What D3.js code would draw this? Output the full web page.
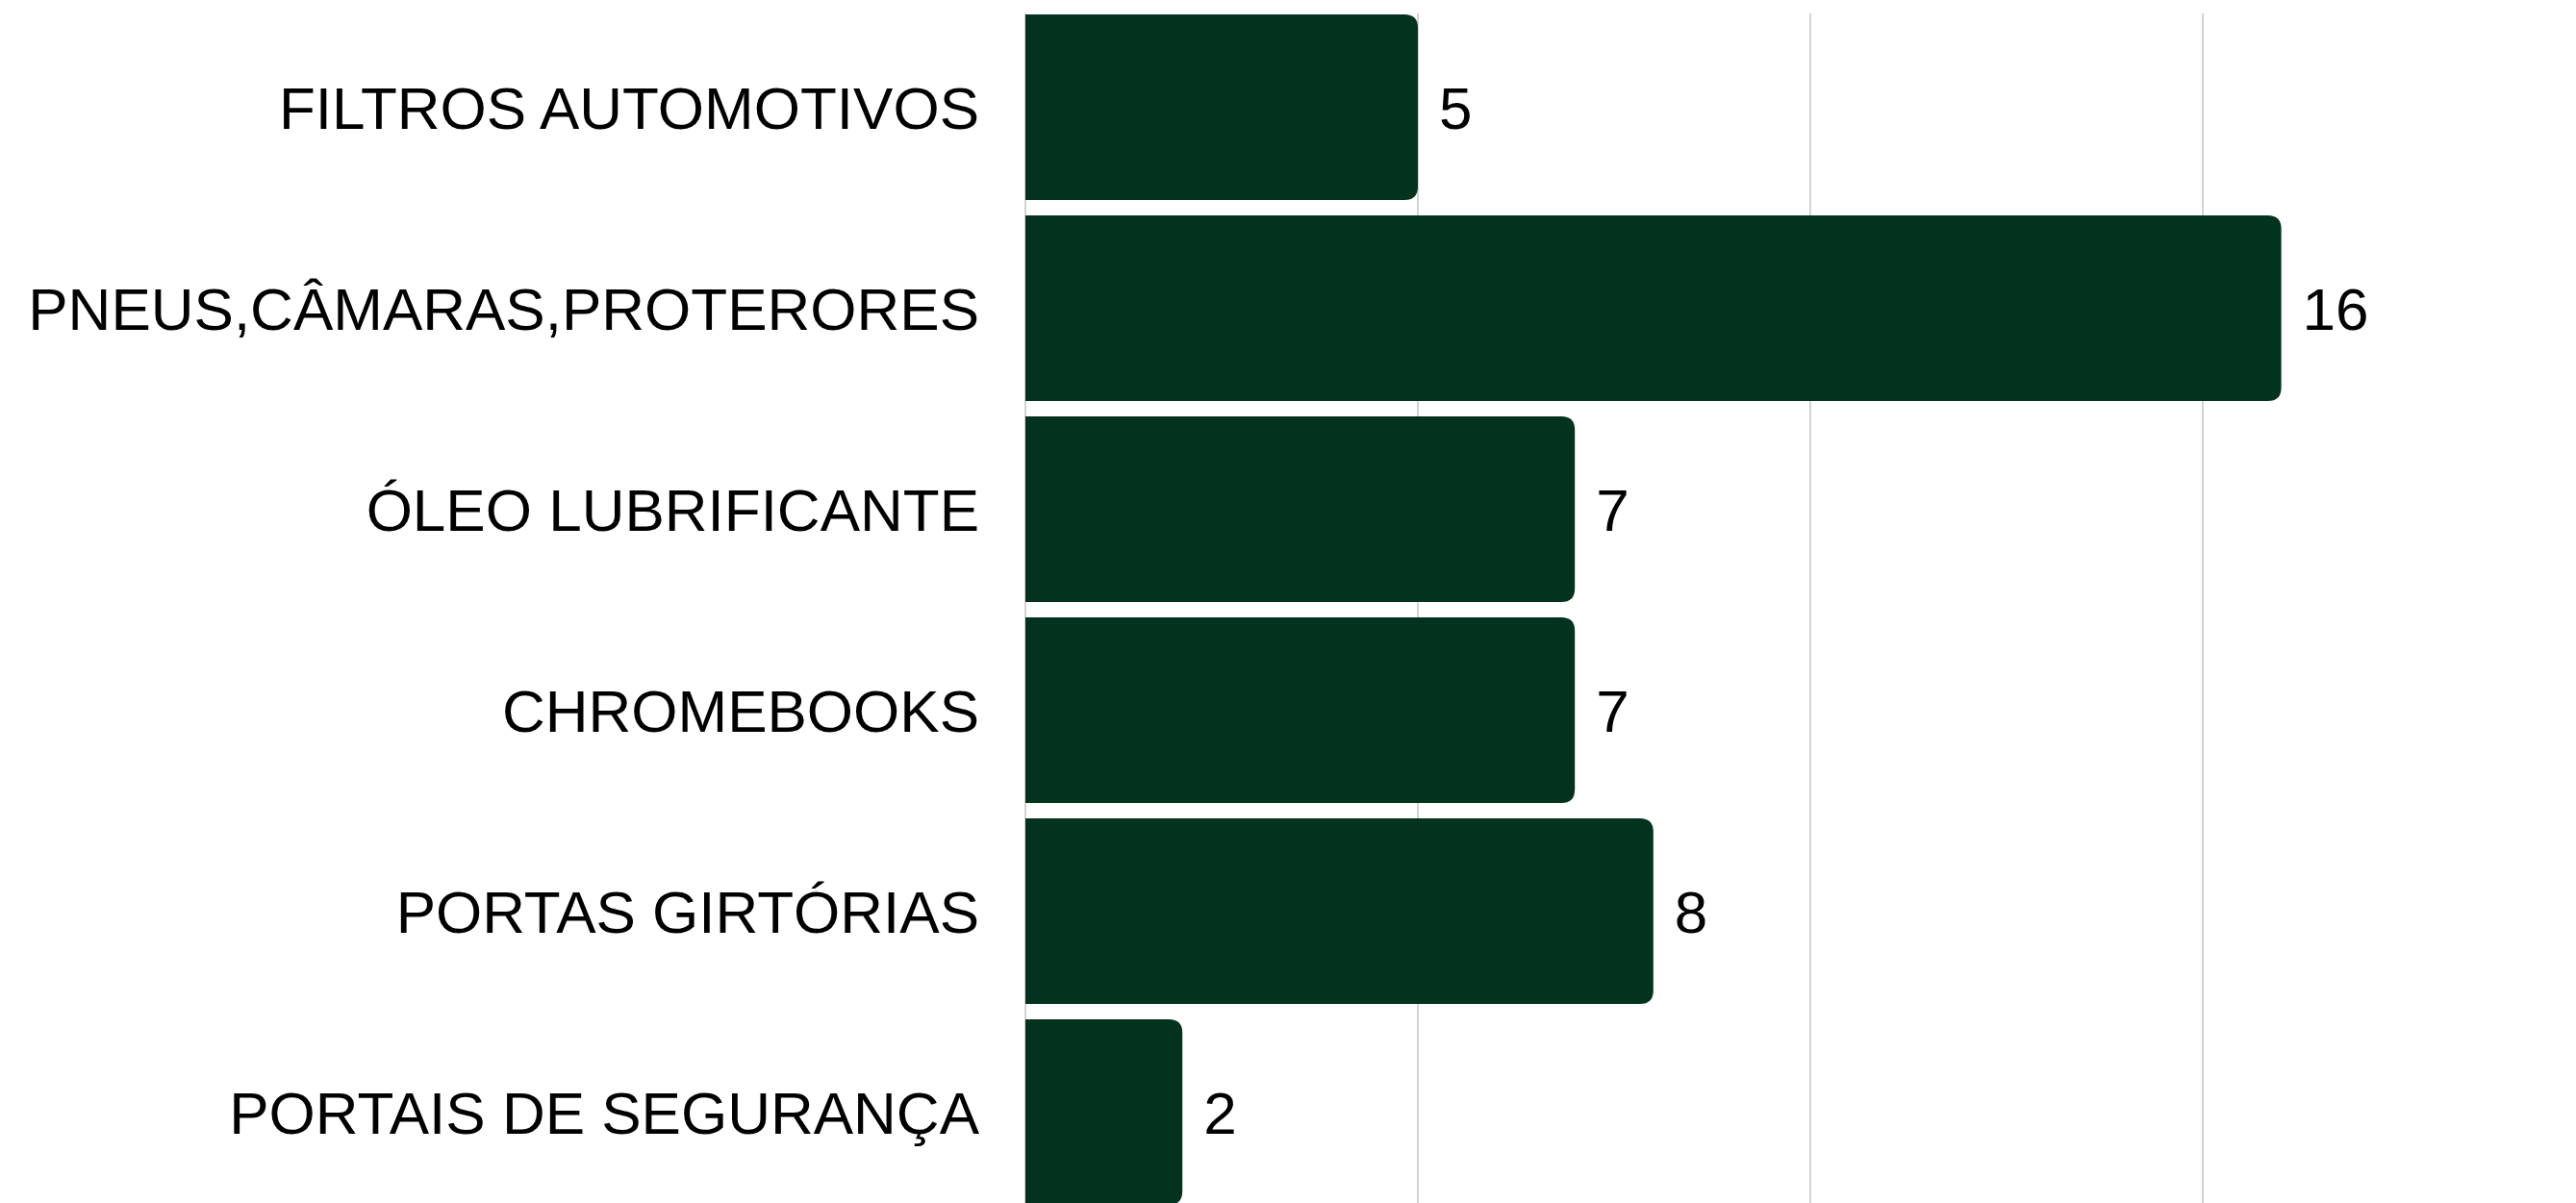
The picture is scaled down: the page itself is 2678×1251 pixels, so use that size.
<!DOCTYPE html>
<html>
<head>
<meta charset="utf-8">
<script src="https://cdn.jsdelivr.net/npm/d3@7"></script>
<style>
  html, body { margin: 0; padding: 0; background: #fff; overflow: hidden; }
  svg { display: block; }
  text { font-family: "Liberation Sans", Arial, Helvetica, sans-serif; }
</style>
</head>
<body>
<script>
const WIDTH = 2678;
const HEIGHT = 1251;
const LEFT = 1066;
const TOP = 15;
const STEP = 209;
const GAP = 16;

const categories = [
  'FILTROS AUTOMOTIVOS',
  'PNEUS,CÂMARAS,PROTERORES',
  'ÓLEO LUBRIFICANTE',
  'CHROMEBOOKS',
  'PORTAS GIRTÓRIAS',
  'PORTAIS DE SEGURANÇA'
];
const values = [5, 16, 7, 7, 8, 2];
const gridTicks = [0, 5, 10, 15, 20];

var drawChart = function(){
  var svg = d3.select('body')
    .append('svg')
    .attr('width', WIDTH)
    .attr('height', HEIGHT);

  var xScale = d3.scaleLinear().domain([0, 20]).range([LEFT, LEFT + 20*81.6]);
  var p = GAP/STEP;
  var yScale = d3.scaleBand()
    .domain(categories)
    .range([TOP, TOP + STEP*(categories.length - p)])
    .paddingInner(p)
    .paddingOuter(0);

  // vertical grid
  svg.append('g')
    .selectAll('line')
    .data(gridTicks)
    .enter()
    .append('line')
    .attr('x1', d => xScale(d))
    .attr('x2', d => xScale(d))
    .attr('y1', TOP - 1)
    .attr('y2', HEIGHT)
    .attr('stroke', '#c8c8c8')
    .attr('stroke-width', 1.6);

  var r = 14;
  var barPath = function(d, i){
    var x0 = xScale(0), x1 = xScale(d);
    var y0 = yScale(categories[i]), h = yScale.bandwidth();
    var rr = Math.min(r, (x1 - x0)/2);
    return 'M' + x0 + ',' + y0
      + 'H' + (x1 - rr)
      + 'Q' + x1 + ',' + y0 + ' ' + x1 + ',' + (y0 + rr)
      + 'V' + (y0 + h - rr)
      + 'Q' + x1 + ',' + (y0 + h) + ' ' + (x1 - rr) + ',' + (y0 + h)
      + 'H' + x0 + 'Z';
  };

  svg.append('g')
    .selectAll('path')
    .data(values)
    .enter()
    .append('path')
    .attr('d', barPath)
    .attr('fill', '#03331e');

  // value labels
  svg.append('g')
    .selectAll('text')
    .data(values)
    .enter()
    .append('text')
    .attr('x', d => xScale(d) + 22)
    .attr('y', (d, i) => yScale(categories[i]) + yScale.bandwidth()/2)
    .attr('dy', '0.36em')
    .attr('font-size', 62)
    .attr('fill', '#000')
    .text(d => d);

  // category axis
  var yAxis = d3.axisLeft(yScale).tickSize(0).tickPadding(48);
  var ax = svg.append('g')
    .attr('transform', 'translate(' + LEFT + ',0)')
    .call(yAxis);
  ax.select('.domain').remove();
  ax.selectAll('text')
    .attr('font-size', 62)
    .attr('font-family', '"Liberation Sans", Arial, Helvetica, sans-serif')
    .attr('fill', '#000')
    .attr('dy', '0.36em');
};

window.onload = function(){
  drawChart();
};
</script>
</body>
</html>
